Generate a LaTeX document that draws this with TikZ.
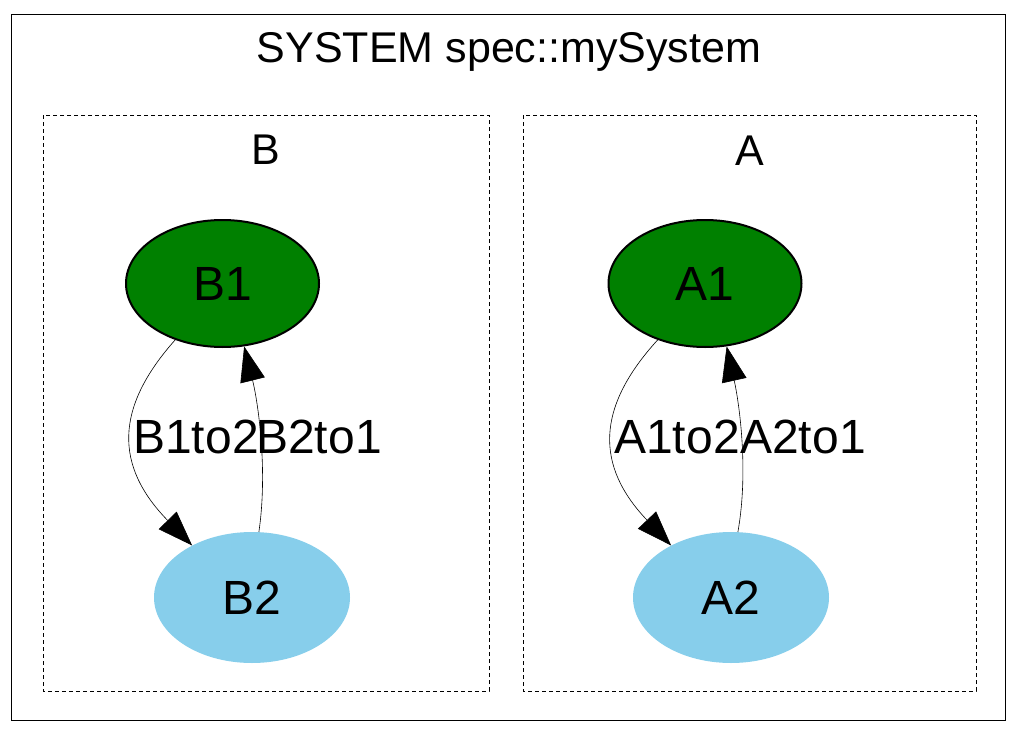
\documentclass[tikz,border=0pt]{standalone}
\usepackage{fontspec}
\setmainfont{Liberation Sans}
\usepackage{tikz}
\usetikzlibrary{shapes.geometric}
\usetikzlibrary{arrows.meta}
\definecolor{stategreen}{RGB}{0,128,0}
\definecolor{stateblue}{RGB}{135,206,235}
\tikzset{
    bigfont/.style={font=\fontsize{48pt}{58pt}\selectfont},
    framefont/.style={font=\fontsize{43pt}{52pt}\selectfont},
    greenstate/.style=
        { % initial states
            ellipse, draw=black, line width=2pt, fill=stategreen,
            minimum width=193pt, minimum height=127pt, inner sep=0pt, bigfont
        },
    bluestate/.style=
        { % other states
            ellipse, fill=stateblue,
            minimum width=196pt, minimum height=131pt, inner sep=0pt, bigfont
        },
    cluster/.style={draw, line width=0.8pt, dash pattern=on 4pt off 3pt},
    trans/.style={ % transitions
        draw, line width=0.6pt,
        -{Triangle[length=35pt,width=25pt]}
    },
    translabel/.style={bigfont, anchor=base, inner sep=0pt}
}
\begin{document}
\begin{tikzpicture}[x=1pt,y=-1pt]
    \useasboundingbox (0,0) rectangle (1021,739);
    \draw[line width=1pt] (11,14) rectangle (1005,720);
    \node[framefont, anchor=base, inner sep=0pt] (title) at (509,62) {SYSTEM spec::mySystem};

    % cluster B
    \draw[cluster] (43,115) rectangle (489,691);
    \node[framefont, anchor=base, inner sep=0pt] (Blabel) at (266,164) {B};
    \node[greenstate] (B1) at (222.5,283.5) {B1};
    \node[bluestate] (B2) at (252,597.5) {B2};
    \draw[trans] (B1.230) .. controls (114.5,408) and (114.5,466) .. (B2.139.5);
    \draw[trans] (B2.84) .. controls (268,470) and (258,402) .. (B1.289);
    \node[translabel] (B1to2) at (196,453) {B1to2};
    \node[translabel] (B2to1) at (319,453) {B2to1};

    % cluster A
    \draw[cluster] (523,115) rectangle (976,691);
    \node[framefont, anchor=base, inner sep=0pt] (Alabel) at (750,165) {A};
    \node[greenstate] (A1) at (705,283.5) {A1};
    \node[bluestate] (A2) at (731,597.5) {A2};
    \draw[trans] (A1.230) .. controls (595.5,408) and (595.5,466) .. (A2.139.5);
    \draw[trans] (A2.84) .. controls (749,470) and (739,402) .. (A1.289);
    \node[translabel] (A1to2) at (677,453) {A1to2};
    \node[translabel] (A2to1) at (803,453) {A2to1};
\end{tikzpicture}
\end{document}
